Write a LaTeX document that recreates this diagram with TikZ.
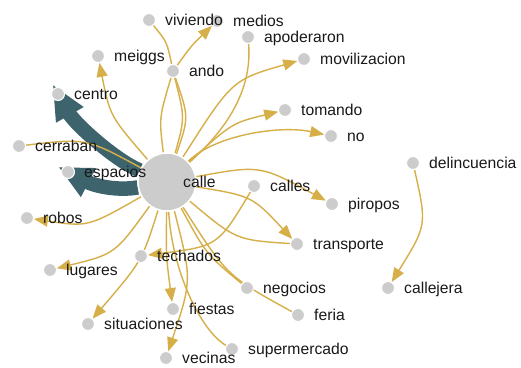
\documentclass[tikz,border=0pt]{standalone}
\usepackage{fontspec}
\setmainfont{Liberation Sans}
\usetikzlibrary{arrows.meta}
\definecolor{gold}{RGB}{214,175,72}
\definecolor{deepteal}{RGB}{61,99,109}
\definecolor{dotgrey}{RGB}{204,204,204}
\definecolor{inkc}{RGB}{25,25,25}
\pgfdeclarelayer{edges}
\pgfdeclarelayer{labels}
\pgfsetlayers{edges,main,labels}
\newcommand\vtx[4]{%
  \node[dot] (#1) at (#2,#3) {};
  \begin{pgfonlayer}{labels}
    \node[lbl] (#1-lab) at ({#2+16},{#3+1}) {#4};
  \end{pgfonlayer}}
\begin{document}
\begin{tikzpicture}[x=1pt,y=-1pt,
  dot/.style={circle,fill=dotgrey,draw=white,line width=1pt,minimum size=13pt,inner sep=0pt},
  hub/.style={circle,fill=dotgrey,draw=white,line width=1.5pt,minimum size=58pt,inner sep=0pt},
  lbl/.style={anchor=west,inner sep=0pt,text=inkc,text height=11pt,text depth=3pt,font=\fontsize{15.7}{18}\selectfont},
  link/.style={draw=gold,line width=1.4pt},
  arr/.style={link,-{Triangle[length=14pt,width=11pt]}},
  heavy/.style={draw=deepteal,line width=14.5pt,shorten >=-18pt,-{Triangle[length=35pt,width=29pt]}}
]
\useasboundingbox (0,0) rectangle (521,367);
% nodes
\node[hub] (calle) at (167,182) {};
\begin{pgfonlayer}{labels}
  \node[lbl] (calle-lab) at (183,183) {calle};
\end{pgfonlayer}
\vtx{viviendo}{149}{20}{viviendo}
\vtx{medios}{217}{21}{medios}
\vtx{meiggs}{98}{56}{meiggs}
\vtx{ando}{173}{71}{ando}
\vtx{apoderaron}{248}{37}{apoderaron}
\vtx{movilizacion}{304}{59}{movilizacion}
\vtx{centro}{58}{94}{centro}
\vtx{tomando}{285}{110}{tomando}
\vtx{no}{331}{136}{no}
\vtx{cerraban}{19}{146}{cerraban}
\vtx{delincuencia}{413}{163}{delincuencia}
\vtx{espacios}{68}{172}{espacios}
\vtx{calles}{254}{186}{calles}
\vtx{piropos}{332}{204}{piropos}
\vtx{robos}{27}{218}{robos}
\vtx{transporte}{297}{244}{transporte}
\vtx{techados}{141}{256}{techados}
\vtx{lugares}{50}{270}{lugares}
\vtx{negocios}{247}{288}{negocios}
\vtx{callejera}{388}{288}{callejera}
\vtx{fiestas}{173}{309}{fiestas}
\vtx{feria}{298}{315}{feria}
\vtx{situaciones}{88}{324}{situaciones}
\vtx{supermercado}{232}{349}{supermercado}
\vtx{vecinas}{166}{358}{vecinas}
% edges
\begin{pgfonlayer}{edges}
\fill[white] (0,0) rectangle (521,367);
\draw[heavy] (calle) .. controls (115,160) and (75,124) .. (centro);
\draw[heavy,-{Triangle[length=34pt,width=30pt]}] (calle) .. controls (118,191) and (95,186) .. (espacios);
\draw[arr] (calle) .. controls (110,116) .. (meiggs);
\draw[link] (cerraban) .. controls (86,138) .. (calle);
\draw[arr] (calle) .. controls (88,227) .. (robos);
\draw[arr] (calle) .. controls (115,254) .. (lugares);
\draw[arr] (calle) .. controls (142,261) .. (situaciones);
\draw[arr] (calle) .. controls (166,256) .. (fiestas);
\draw[arr] (calle) .. controls (192,280) .. (vecinas);
\draw[link] (supermercado) .. controls (200,330) and (172,270) .. (calle);
\draw[link] (negocios) .. controls (206,254) .. (calle);
\draw[link] (feria) .. controls (227,276) .. (calle);
\draw[link] (transporte) .. controls (236,240) .. (calle);
\draw[arr] (calle) .. controls (252,196) .. (transporte);
\draw[arr] (calle) .. controls (260,165) .. (piropos);
\draw[arr] (calles) .. controls (218,246) .. (techados);
\draw[arr] (calle) .. controls (215,135) and (280,125) .. (no);
\draw[arr] (calle) .. controls (232,123) .. (tomando);
\draw[arr] (calle) .. controls (232,80) .. (movilizacion);
\draw[link] (apoderaron) .. controls (252,85) and (232,125) .. (calle);
\draw[link] (viviendo) .. controls (167,42) .. (ando);
\draw[arr] (ando) .. controls (192,45) .. (medios);
\draw[link] (ando) .. controls (159,118) .. (calle);
\draw[link] (ando) .. controls (185,118) .. (calle);
\draw[link] (ando) .. controls (189,117) .. (calle);
\draw[arr] (delincuencia) .. controls (427,225) .. (callejera);
\end{pgfonlayer}
\end{tikzpicture}
\end{document}
